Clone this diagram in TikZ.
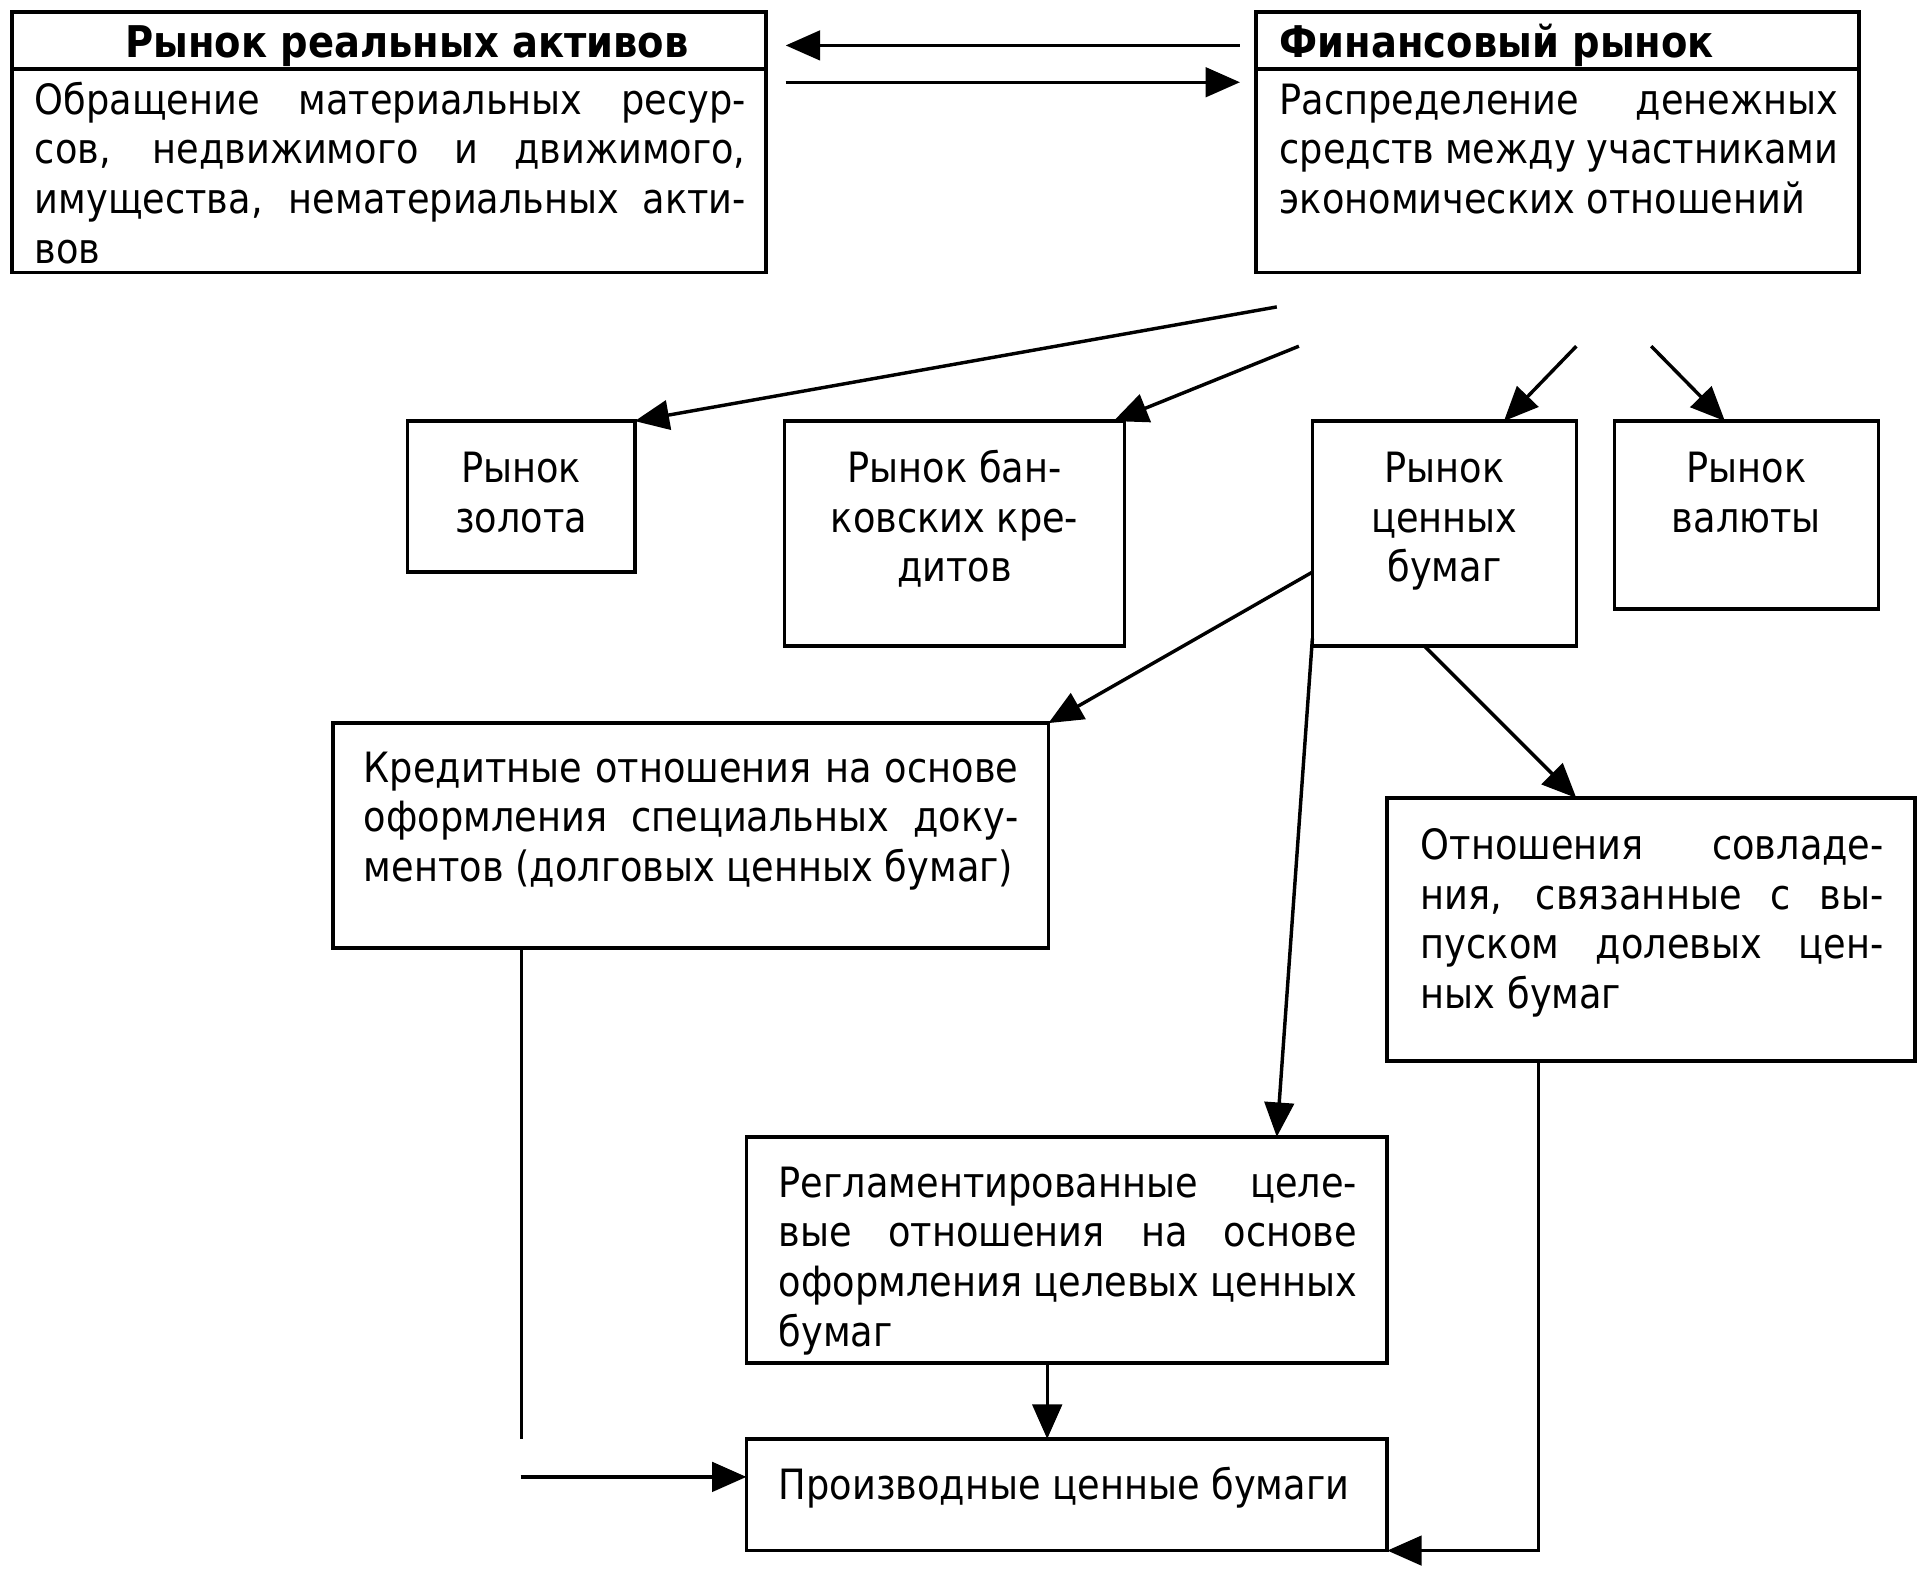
\documentclass[tikz,border=0pt]{standalone}
\usepackage{fontspec}
\setmainfont{DejaVu Sans}[FakeStretch=0.88]
\usetikzlibrary{arrows.meta,calc}
\newcommand\jl[1]{\makebox[\linewidth][s]{#1}}
\begin{document}
\begin{tikzpicture}[x=0.5pt,y=-0.5pt,
  box/.style={draw, line width=1.5pt, inner sep=0pt, outer sep=0pt, anchor=north west},
  txt/.style={anchor=base west, inner sep=0pt, font=\fontsize{17pt}{20.25pt}\selectfont},
  ctxt/.style={anchor=base, inner sep=0pt, font=\fontsize{17pt}{20.25pt}\selectfont},
  ttl/.style={inner sep=0pt, font=\fontsize{17.8pt}{20.25pt}\selectfont\bfseries},
  arr/.style={line width=1.4pt, -{Triangle[length=14pt,width=12pt]}},
  ln/.style={line width=1.4pt}]
\useasboundingbox (0,0) rectangle (1568,1284);
\fill[white] (0,0) rectangle (1568,1284);

% boxes
\node[box, minimum width=614*0.5pt, minimum height=212*0.5pt] (A) at (10,10) {};
\node[box, minimum width=491*0.5pt, minimum height=212*0.5pt] (B) at (1023,10) {};
\node[box, minimum width=185*0.5pt, minimum height=123*0.5pt] (gold) at (332,343) {};
\node[box, minimum width=277*0.5pt, minimum height=183*0.5pt] (bank) at (639,343) {};
\node[box, minimum width=215*0.5pt, minimum height=183*0.5pt] (sec) at (1069,343) {};
\node[box, minimum width=215*0.5pt, minimum height=153*0.5pt] (cur) at (1315,343) {};
\node[box, minimum width=583*0.5pt, minimum height=183*0.5pt] (cred) at (271,589) {};
\node[box, minimum width=430*0.5pt, minimum height=214*0.5pt] (eq) at (1130,650) {};
\node[box, minimum width=522*0.5pt, minimum height=184*0.5pt] (reg) at (608,926) {};
\node[box, minimum width=522*0.5pt, minimum height=91*0.5pt] (der) at (608,1172) {};

% header dividers
\draw[line width=1.5pt] (A.west |- 0,56) -- (A.east |- 0,56);
\draw[line width=1.5pt] (B.west |- 0,56) -- (B.east |- 0,56);

% texts
\node[ttl, anchor=base] (At) at (331.5,47) {Рынок реальных активов};
\node[ttl, anchor=base west] (Bt) at (1042,47) {Финансовый рынок};
\node[txt] (Ab) at (28,93) {\parbox[t]{289.5pt}{\jl{Обращение материальных ресур-}\\\jl{сов, недвижимого и движимого,}\\\jl{имущества, нематериальных акти-}\\вов}};
\node[txt] (Bb) at (1042,93) {\parbox[t]{227.5pt}{\jl{Распределение денежных}\\\jl{средств между участниками}\\экономических отношений}};
\node[ctxt] (goldt) at (424.5,393) {\parbox[t]{90pt}{\centering Рынок\\золота}};
\node[ctxt] (bankt) at (777.5,393) {\parbox[t]{135pt}{\centering Рынок бан-\\ковских кре-\\дитов}};
\node[ctxt] (sect) at (1176.5,393) {\parbox[t]{105pt}{\centering Рынок\\ценных\\бумаг}};
\node[ctxt] (curt) at (1422.5,393) {\parbox[t]{105pt}{\centering Рынок\\валюты}};
\node[txt] (credt) at (296,637) {\parbox[t]{266.5pt}{\jl{Кредитные отношения на основе}\\\jl{оформления специальных доку-}\\ментов (долговых ценных бумаг)}};
\node[txt] (eqt) at (1157,700) {\parbox[t]{188.5pt}{\jl{Отношения совладе-}\\\jl{ния, связанные с вы-}\\\jl{пуском долевых цен-}\\ных бумаг}};
\node[txt] (regt) at (634,975) {\parbox[t]{235.5pt}{\jl{Регламентированные целе-}\\\jl{вые отношения на основе}\\\jl{оформления целевых ценных}\\бумаг}};
\node[txt] (dert) at (634,1221) {Производные ценные бумаги};

% connector free ends
\coordinate (t1s) at (1010,37);
\coordinate (t1e) at (640,37);
\coordinate (t2s) at (640,67);
\coordinate (t2e) at (1010,67);
\coordinate (f1) at (1040,250);
\coordinate (f2) at (1058,282);
\coordinate (f3) at (1284,282);
\coordinate (f4) at (1345,282);
\coordinate (cv) at (425,1172);
\coordinate (ch) at (424,1203);
\coordinate (ec) at (1253,1263);

% connectors
\draw[arr] (t1s) -- (t1e);
\draw[arr] (t2s) -- (t2e);
\draw[arr] (f1) -- (gold.north east);
\draw[arr] (f2) -- (907,343);
\draw[arr] (f3) -- (1225,343);
\draw[arr] (f4) -- (1405,343);
\draw[arr] (sec.west |- 0,466) -- (cred.north east);
\draw[arr] (sec.west |- 0,520) -- (1040,926);
\draw[arr] (sec.south -| 1160,0) -- (eq.north -| 1284,0);
\draw[arr] (reg.south -| 853,0) -- (der.north -| 853,0);
\draw[ln] (cred.south -| 425,0) -- (cv);
\draw[arr] (ch) -- (der.west |- ch);
\draw[arr] (eq.south -| 1253,0) -- (ec) -- (der.south east);
\end{tikzpicture}
\end{document}
